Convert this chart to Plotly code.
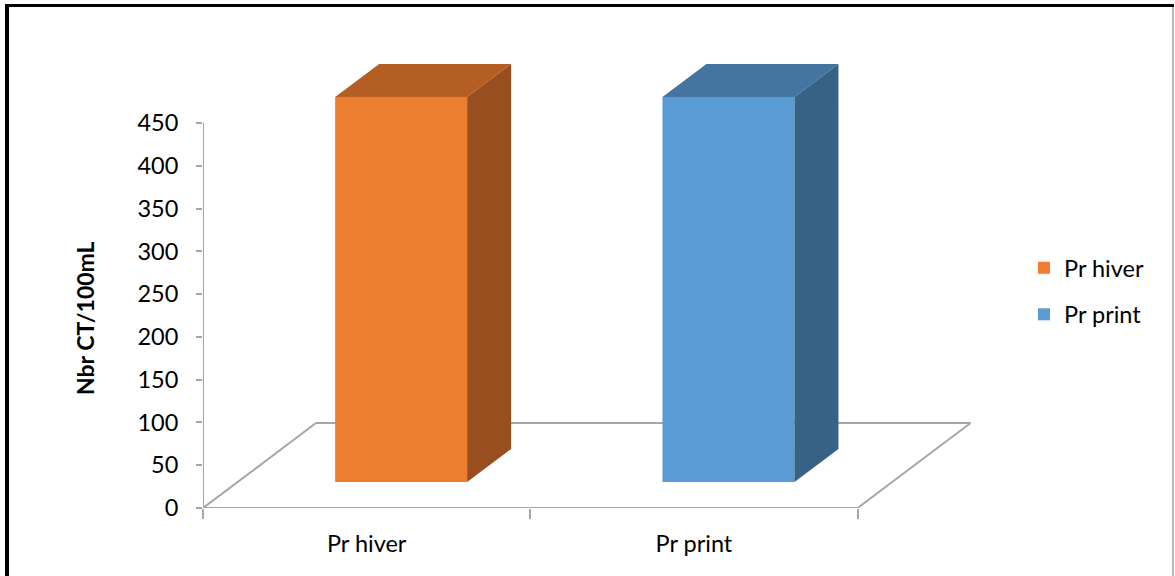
import plotly.graph_objects as go

# Data
categories = ["Pr hiver", "Pr print"]
values = [450, 450]
colors_front = ["#ED7D31", "#5B9BD5"]
colors_top = ["#B55E24", "#4475A1"]
colors_side = ["#984E1E", "#386186"]
y_ticks = [0, 50, 100, 150, 200, 250, 300, 350, 400, 450]

# Page / plot-area geometry (pixels)
W, H = 1175, 576
ML, MR, MT, MB = 203, 175, 40, 68
PX_PER_CAT = 327.3            # pixels per category unit
PX_PER_VAL = 0.8556           # pixels per value unit
plot_w = W - ML - MR
plot_h = H - MT - MB
x_range = [-0.5, -0.5 + plot_w / PX_PER_CAT]
y_range = [0, plot_h / PX_PER_VAL]

# Pseudo-3D depth (data units)
floor_dx = 113 / PX_PER_CAT
floor_dy = 85 / PX_PER_VAL
bar_dx = 44 / PX_PER_CAT
bar_dy = 33 / PX_PER_VAL
half_w = 66 / PX_PER_CAT
bar_base = (floor_dy - bar_dy) / 2
bar_shift = (floor_dx - bar_dx) / 2

font_family = "Lato, 'Open Sans', sans-serif"
FONT_SIZE = 23.5
GRID = "#A6A6A6"

fig = go.Figure()

# Front faces of the columns
for i, (cat, val) in enumerate(zip(categories, values)):
    fig.add_trace(go.Bar(
        x=[cat], y=[val], base=[bar_base],
        width=[2 * half_w], offset=[bar_shift - half_w],
        marker=dict(color=colors_front[i], line=dict(width=0)),
        name=cat, legendgroup=cat, hoverinfo="skip",
    ))

shapes = []

# Floor outline
x0, x1 = -0.5, len(categories) - 0.5
floor_lines = [
    (x0, 0, x0 + floor_dx, floor_dy),
    (x0 + floor_dx, floor_dy, x1 + floor_dx, floor_dy),
    (x1, 0, x1 + floor_dx, floor_dy),
    (x0, 0, x1, 0),
]
for (a, b, c, d) in floor_lines:
    shapes.append(dict(type="line", xref="x", yref="y", x0=a, y0=b, x1=c, y1=d,
                       line=dict(color=GRID, width=2), layer="below"))

# Value axis line (0 to top tick)
shapes.append(dict(type="line", xref="x", yref="y", x0=x0, y0=0, x1=x0, y1=y_ticks[-1],
                   line=dict(color=GRID, width=2), layer="below"))

# Top and side faces of the columns
for i, val in enumerate(values):
    xl = i + bar_shift - half_w
    xr = i + bar_shift + half_w
    top = bar_base + val
    top_path = (f"M{xl},{top} L{xr},{top} L{xr + bar_dx},{top + bar_dy} "
                f"L{xl + bar_dx},{top + bar_dy} Z")
    side_path = (f"M{xr},{bar_base} L{xr},{top} L{xr + bar_dx},{top + bar_dy} "
                 f"L{xr + bar_dx},{bar_base + bar_dy} Z")
    shapes.append(dict(type="path", xref="x", yref="y", path=top_path,
                       fillcolor=colors_top[i], line=dict(width=0), layer="above"))
    shapes.append(dict(type="path", xref="x", yref="y", path=side_path,
                       fillcolor=colors_side[i], line=dict(width=0), layer="above"))


def px_x(p):
    return (p - ML) / plot_w


def px_y(p):
    return (H - MB - p) / plot_h


# Frame around the chart
shapes.append(dict(type="line", xref="paper", yref="paper",
                   x0=px_x(7), y0=px_y(4), x1=px_x(7), y1=px_y(H + 5),
                   line=dict(color="black", width=4)))
shapes.append(dict(type="line", xref="paper", yref="paper",
                   x0=px_x(5), y0=px_y(5.5), x1=px_x(1174), y1=px_y(5.5),
                   line=dict(color="black", width=3)))
shapes.append(dict(type="line", xref="paper", yref="paper",
                   x0=px_x(1173), y0=px_y(7), x1=px_x(1173), y1=px_y(H + 5),
                   line=dict(color="#A0A0A0", width=1.5)))

fig.update_layout(
    width=W, height=H,
    margin=dict(l=ML, r=MR, t=MT, b=MB, autoexpand=False),
    paper_bgcolor="white", plot_bgcolor="white",
    barmode="overlay",
    font=dict(family=font_family, size=FONT_SIZE, color="black"),
    shapes=shapes,
    showlegend=True,
    legend=dict(
        x=px_x(1024), y=px_y(246), xanchor="left", yanchor="top",
        traceorder="grouped", tracegroupgap=13,
        font=dict(family=font_family, size=FONT_SIZE, color="black"),
        bgcolor="rgba(0,0,0,0)",
    ),
    xaxis=dict(
        type="category", range=x_range, categoryorder="array", categoryarray=categories,
        tickson="boundaries", ticks="outside", ticklen=10, tickcolor=GRID, tickwidth=2,
        showline=False, showgrid=False, zeroline=False,
        ticklabelstandoff=19, fixedrange=True,
    ),
    yaxis=dict(
        range=y_range, tickvals=y_ticks, ticks="outside", ticklen=6, tickcolor=GRID,
        tickwidth=2, showline=False, showgrid=False, zeroline=False,
        ticklabelstandoff=13, fixedrange=True,
    ),
    annotations=[dict(
        text="Nbr CT/100mL", textangle=-90, xref="paper", yref="paper",
        x=px_x(85), y=px_y(318), xanchor="center", yanchor="middle",
        showarrow=False, font=dict(family=font_family, size=23, color="black", weight="bold"),
    )],
)

fig.write_html("out.html")
